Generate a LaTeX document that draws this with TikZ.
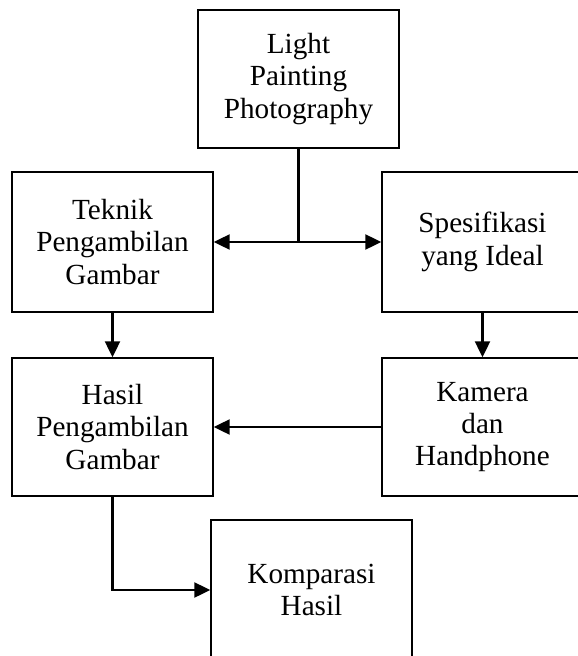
\documentclass[tikz,border=0pt]{standalone}
\usepackage{fontspec}
\setmainfont{Liberation Serif}
\usetikzlibrary{arrows.meta}
\begin{document}
\begin{tikzpicture}[x=1bp,y=-1bp,
  stepbox/.style={draw, line width=1.4bp, minimum width=201bp, align=center,
    inner sep=0pt, font=\fontsize{29.3}{32.5}\selectfont},
  flow/.style={line width=2.2bp, -{Triangle[length=16bp,width=15bp]}},
  plain/.style={line width=2.2bp}]
\useasboundingbox (0,0) rectangle (578,656);
\fill[white] (0,0) rectangle (578,656);

\node[stepbox, minimum height=138bp] (top) at (298.5,79) {Light\\Painting\\Photography};
\node[stepbox, minimum height=140bp] (teknik) at (112.5,242) {Teknik\\Pengambilan\\Gambar};
\node[stepbox, minimum height=140bp] (spes) at (482.5,242) {Spesifikasi\\yang Ideal};
\node[stepbox, minimum height=138bp] (hasil) at (112.5,427) {Hasil\\Pengambilan\\Gambar};
\node[stepbox, minimum height=138bp] (kamera) at (482.5,427) {Kamera\\dan\\Handphone};
\node[stepbox, minimum height=140bp] (komp) at (311.5,590) {Komparasi\\Hasil};

% branch from the top box to both sides
\coordinate (j) at (top.south |- teknik.east);
\draw[plain] (top.south) -- (j);
\draw[plain, {Triangle[length=16bp,width=15bp]}-{Triangle[length=16bp,width=15bp]}]
  (teknik.east) -- (spes.west);

\draw[flow] (teknik.south) -- (hasil.north);
\draw[flow] (spes.south) -- (kamera.north);
\draw[flow] (kamera.west) -- (hasil.east);
\draw[flow] (hasil.south) |- (komp.west);
\end{tikzpicture}
\end{document}
